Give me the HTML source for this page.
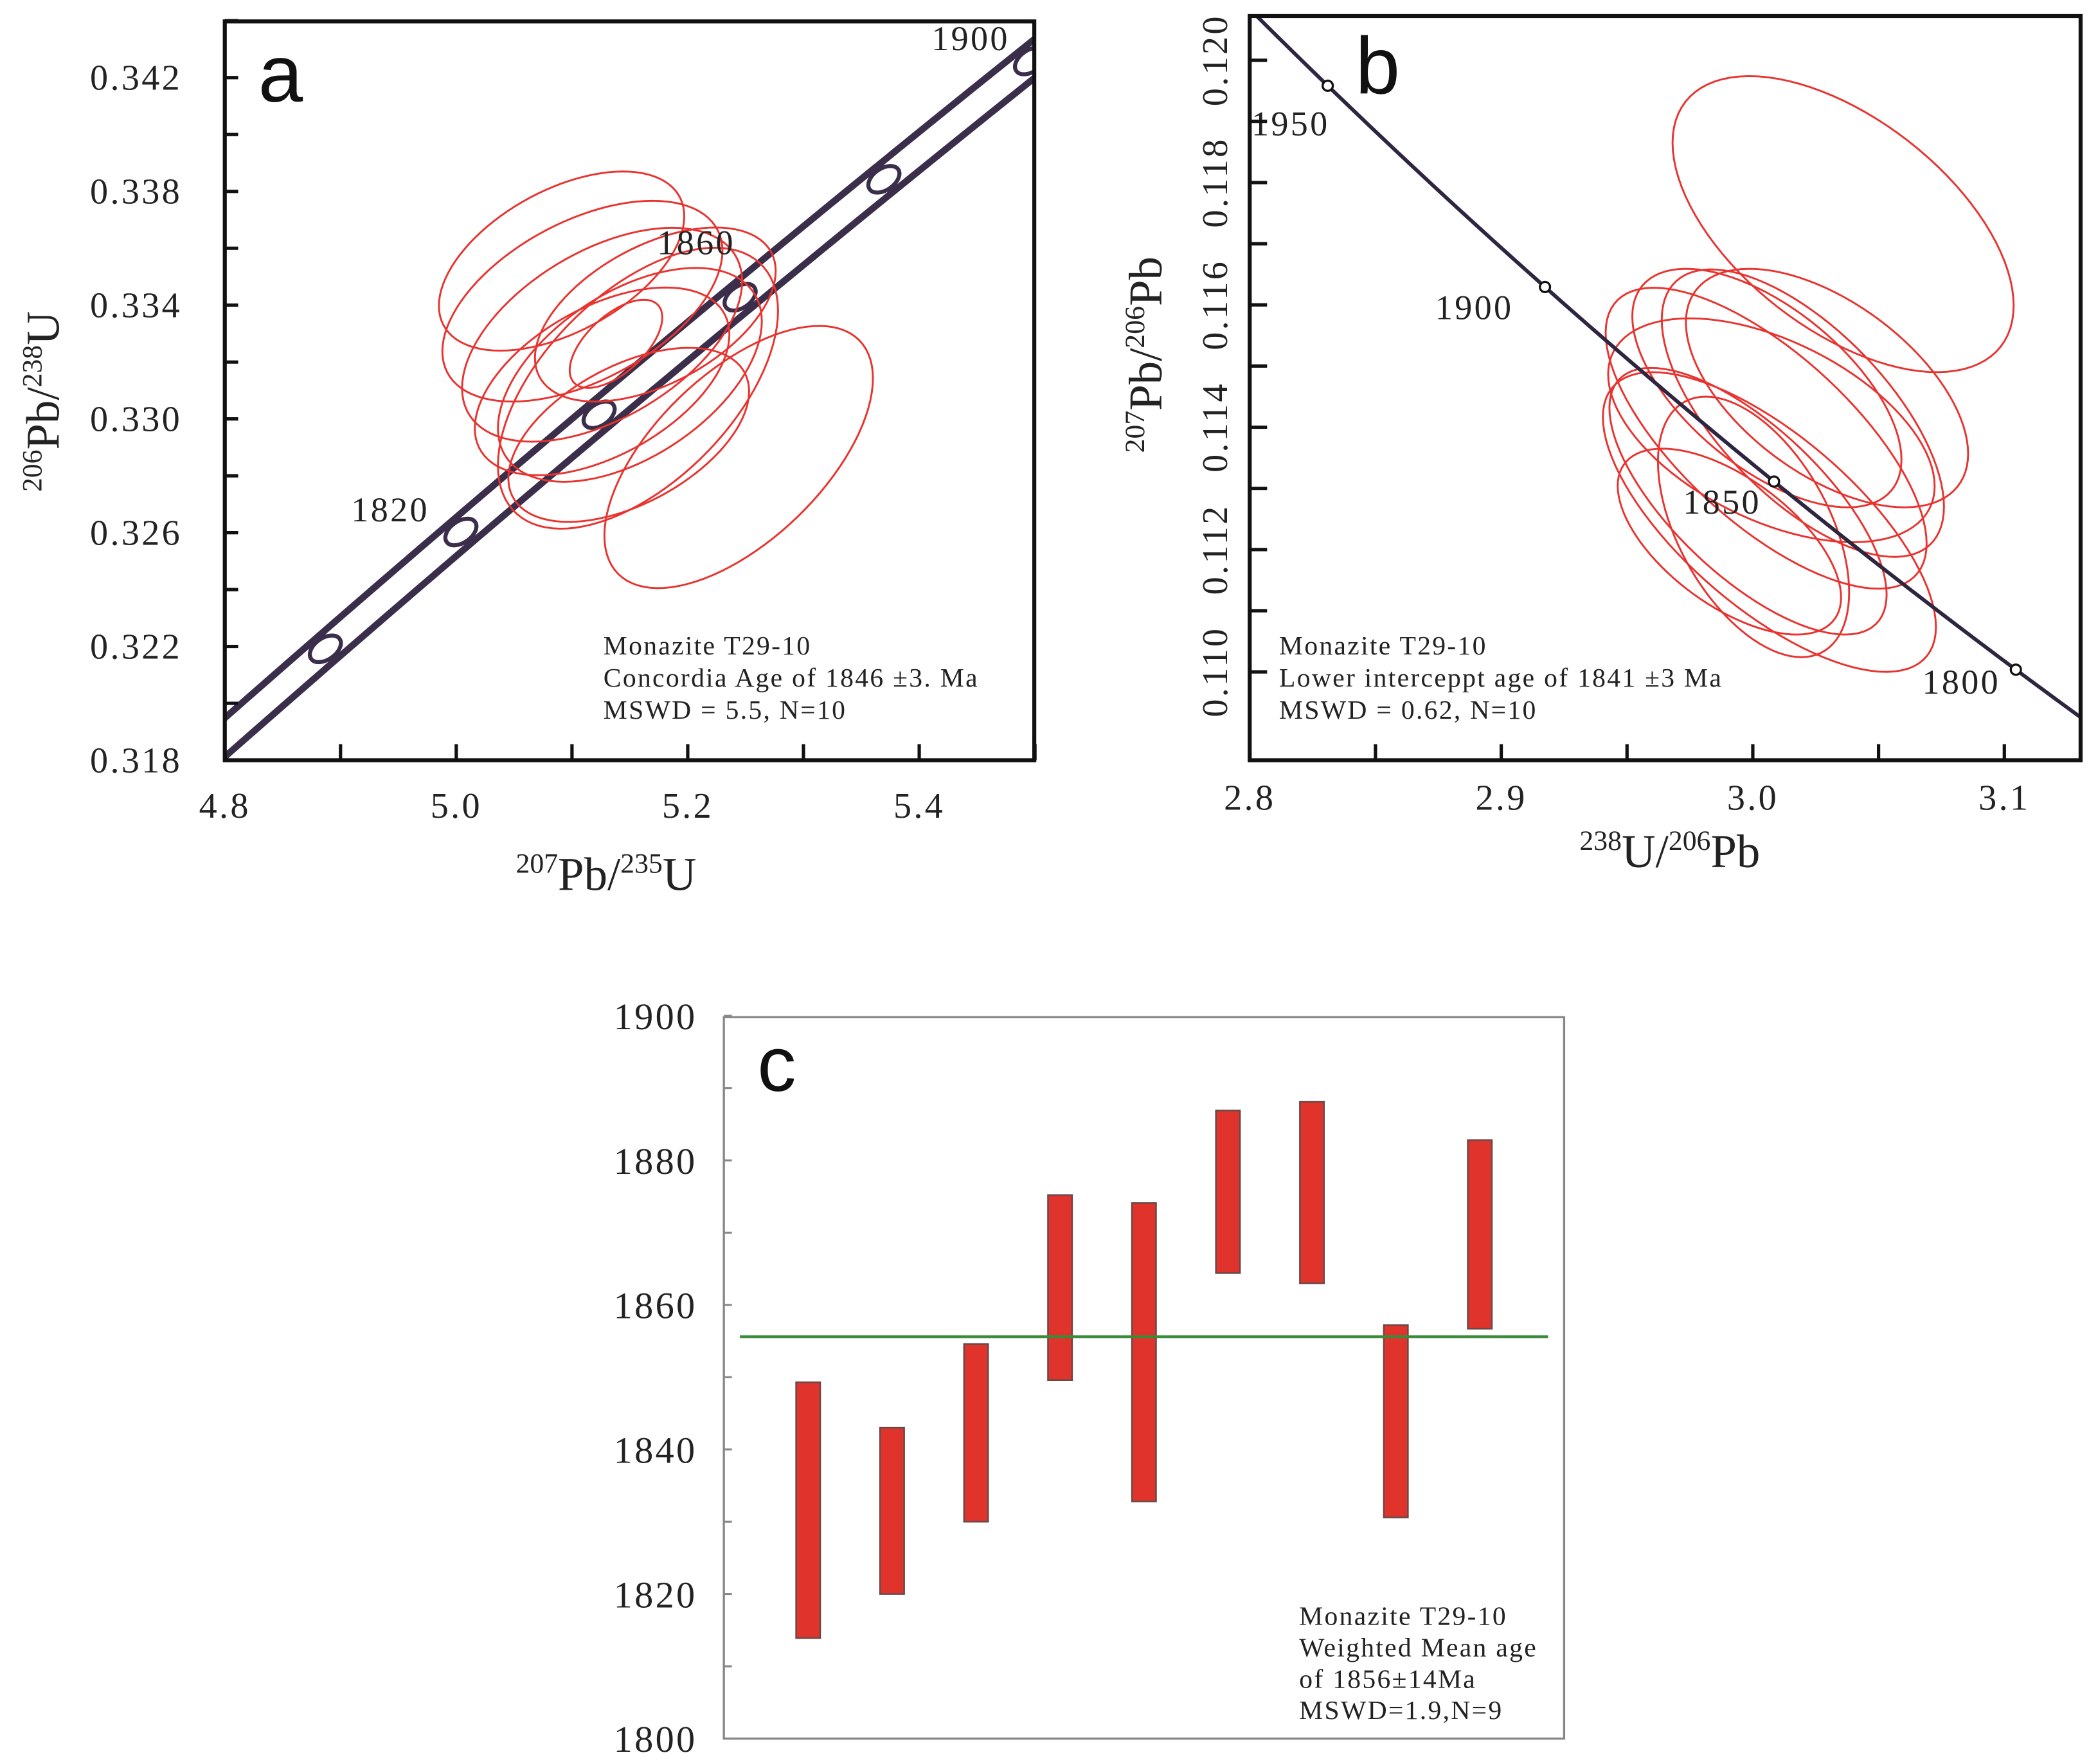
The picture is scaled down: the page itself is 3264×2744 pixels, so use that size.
<!DOCTYPE html>
<html><head><meta charset="utf-8"><style>
html,body{margin:0;padding:0;background:#fff}
svg{display:block}
text{font-family:"Liberation Serif",serif;fill:#222}
.sans{font-family:"Liberation Sans",sans-serif;fill:#111;letter-spacing:0}
.tk{letter-spacing:1.6px}
.ann{letter-spacing:1.1px}
</style></head><body>
<svg id="fig" xmlns="http://www.w3.org/2000/svg" width="3264" height="2744" viewBox="0 0 1568 1318" preserveAspectRatio="none">
<g id="pa"></g>
<g id="pb"></g>
<g id="pc"></g>
</svg>
<script>
// ---------- Panel a data ----------
const aEllCx = [5.091, 5.109, 5.126, 5.150, 5.157, 5.244, 5.138, 5.149, 5.126, 5.172];
const aEllCy = [0.33555, 0.33414, 0.33296, 0.33155, 0.33108, 0.32866, 0.33264, 0.32944, 0.33132, 0.33367];
const aEllSx = [0.106, 0.121, 0.121, 0.114, 0.121, 0.116, 0.040, 0.104, 0.110, 0.104];
const aEllSy = [0.00315, 0.00353, 0.00376, 0.00376, 0.00494, 0.00461, 0.00155, 0.00306, 0.0033, 0.00306];
const aEllRho = [0.5, 0.5, 0.5, 0.5, 0.55, 0.6, 0.6, 0.5, 0.5, 0.5];
const aXTicks = [4.8, 5.0, 5.2, 5.4];
const aYTicks = [0.318, 0.322, 0.326, 0.330, 0.334, 0.338, 0.342];
const aAgeMarks = [1800, 1820, 1840, 1860, 1880, 1900];
const aAgeLabels = [1820, 1860, 1900];
// ---------- Panel b data ----------
const bEllCx = [3.0359, 3.0056, 3.0199, 3.0295, 3.0074, 3.0066, 2.9981, 3.0003, 2.9907, 3.0053];
const bEllCy = [0.11732, 0.11464, 0.11423, 0.11464, 0.11395, 0.11245, 0.11279, 0.11237, 0.11213, 0.11382];
const bEllSx = [0.0678, 0.0535, 0.0561, 0.0561, 0.0649, 0.0662, 0.0551, 0.0380, 0.0444, 0.0638];
const bEllSy = [0.00242, 0.00195, 0.00235, 0.00195, 0.00183, 0.00245, 0.00218, 0.00213, 0.00152, 0.00246];
const bEllRho = [-0.55, -0.6, -0.65, -0.55, -0.5, -0.7, -0.7, -0.5, -0.6, -0.7];
const bXTicks = [2.8, 2.9, 3.0, 3.1];
const bYTicks = [0.110, 0.112, 0.114, 0.116, 0.118, 0.120];
const bAgeMarks = [1800, 1850, 1900, 1950];
// ---------- Panel c data ----------
const cHigh = [1849.3, 1843.0, 1854.6, 1875.2, 1874.1, 1886.9, 1888.1, 1857.2, 1882.8];
const cLow  = [1813.9, 1820.0, 1830.0, 1849.6, 1832.8, 1864.4, 1863.0, 1830.6, 1856.7];
const cMean = 1855.6;
const cYTicks = [1800, 1820, 1840, 1860, 1880, 1900];

const NS = "http://www.w3.org/2000/svg";
function mk(parent, tag, attrs, txt){
  const e = document.createElementNS(NS, tag);
  for (const k in attrs) e.setAttribute(k, attrs[k]);
  if (txt !== undefined) e.textContent = txt;
  parent.appendChild(e); return e;
}
const L238 = 1.55125e-10, L235 = 9.8485e-10;
function conc(t){ return [Math.exp(L235*t*1e6)-1, Math.exp(L238*t*1e6)-1]; }
function tw(t){ const a=Math.exp(L238*t*1e6)-1, b=Math.exp(L235*t*1e6)-1; return [1/a, b/a/137.88]; }
function ellPath(cx, cy, sx, sy, rho, X, Y){
  let d = ""; const r2 = Math.sqrt(1-rho*rho);
  for (let i=0;i<=96;i++){ const th=i/96*2*Math.PI;
    const x = cx + sx*Math.cos(th), y = cy + sy*(rho*Math.cos(th)+r2*Math.sin(th));
    d += (i?"L":"M")+X(x).toFixed(2)+","+Y(y).toFixed(2); }
  return d+"Z";
}

// ================= Panel a =================
(function(){
  const g = document.getElementById('pa');
  const x0=168,x1=773,y0=16,y1=568;
  const X = v => 168 + (v-4.8)*865;
  const Y = v => 568 - (v-0.318)*21250;
  const cp = mk(g,'clipPath',{id:'clipA'}); mk(cp,'rect',{x:x0,y:y0,width:x1-x0,height:y1-y0});
  const inner = mk(g,'g',{'clip-path':'url(#clipA)'});
  let up="", lo="";
  for (let t=1740;t<=1930;t+=2){ const c=conc(t);
    up += (up?"L":"M")+X(c[0]).toFixed(2)+","+(Y(c[1])-10).toFixed(2);
    lo += (lo?"L":"M")+X(c[0]).toFixed(2)+","+(Y(c[1])+19).toFixed(2); }
  const bu = mk(inner,'path',{d:up,fill:'none',stroke:'#3a2e4a','stroke-width':5});
   
  const bl = mk(inner,'path',{d:lo,fill:'none',stroke:'#3a2e4a','stroke-width':5});
   
  aAgeMarks.forEach(t=>{ const c=conc(t);
    const m = mk(inner,'ellipse',{cx:X(c[0]),cy:Y(c[1])+4,rx:13,ry:8,transform:`rotate(-35 ${X(c[0])} ${Y(c[1])+4})`,fill:'#fff',stroke:'#3a2e4a','stroke-width':3});
     
  });
  aEllCx.forEach((cx,i)=>{
    const p = mk(inner,'path',{d:ellPath(cx,aEllCy[i],aEllSx[i],aEllSy[i],aEllRho[i],X,Y),fill:'none',stroke:'#e8332f','stroke-width':1.4});
     
  });
  const labOff = {1820:[-82,-4],1860:[-62,-28],1900:[-74,-4]};
  aAgeLabels.forEach(t=>{ const c=conc(t);
    const tx = mk(g,'text',{x:X(c[0])+labOff[t][0],y:Y(c[1])+labOff[t][1],'font-size':26,class:'tk'},String(t));
     
  });
  const fr = mk(g,'rect',{x:x0,y:y0,width:x1-x0,height:y1-y0,fill:'none',stroke:'#111','stroke-width':3});
   
  for (let v=4.8; v<=5.501; v+=0.1){ mk(g,'line',{x1:X(v),x2:X(v),y1:y1,y2:y1-12,stroke:'#111','stroke-width':2.5}); }
  for (let v=0.318; v<=0.3441; v+=0.002){ mk(g,'line',{x1:x0,x2:x0+10,y1:Y(v),y2:Y(v),stroke:'#111','stroke-width':2.5}); }
  aXTicks.forEach(v=>{ const t=mk(g,'text',{x:X(v),y:611,'text-anchor':'middle','font-size':27,class:'tk'},v.toFixed(1));
      });
  aYTicks.forEach(v=>{ const t=mk(g,'text',{x:136,y:Y(v)+9,'text-anchor':'end','font-size':27,class:'tk'},v.toFixed(3));
      });
  const pl = mk(g,'text',{x:193,y:76,'font-size':60,class:'sans'},'a');
   
  const xt = mk(g,'text',{x:453,y:665,'text-anchor':'middle','font-size':35});
  xt.innerHTML='<tspan font-size="21" dy="-13">207</tspan><tspan dy="13">Pb/</tspan><tspan font-size="21" dy="-13">235</tspan><tspan dy="13">U</tspan>';
   
  const yt = mk(g,'text',{x:0,y:0,'text-anchor':'middle','font-size':35,transform:'translate(44,300) rotate(-90)'});
  yt.innerHTML='<tspan font-size="21" dy="-13">206</tspan><tspan dy="13">Pb/</tspan><tspan font-size="21" dy="-13">238</tspan><tspan dy="13">U</tspan>';
   
  ['Monazite T29-10','Concordia Age of 1846 \u00b13. Ma','MSWD = 5.5, N=10'].forEach((s,i)=>{
    const t=mk(g,'text',{x:451,y:489+i*24,'font-size':20,fill:'#333',class:'ann'},s);
      });
})();

// ================= Panel b =================
(function(){
  const g = document.getElementById('pb');
  const x0=934,x1=1555,y0=12,y1=568;
  const X = v => 934 + (v-2.8)*1880;
  const Y = v => 502 - (v-0.110)*45700;
  const cp = mk(g,'clipPath',{id:'clipB'}); mk(cp,'rect',{x:x0,y:y0,width:x1-x0,height:y1-y0});
  const inner = mk(g,'g',{'clip-path':'url(#clipB)'});
  bEllCx.forEach((cx,i)=>{
    const p = mk(inner,'path',{d:ellPath(cx,bEllCy[i],bEllSx[i],bEllSy[i],bEllRho[i],X,Y),fill:'none',stroke:'#e8332f','stroke-width':1.4});
     
  });
  let d="";
  for (let t=1760;t<=2000;t+=2){ const c=tw(t); d += (d?"L":"M")+X(c[0]).toFixed(2)+","+Y(c[1]).toFixed(2); }
  const cl = mk(inner,'path',{d:d,fill:'none',stroke:'#2e2540','stroke-width':2.8});
   
  bAgeMarks.forEach(t=>{ const c=tw(t);
    const m = mk(inner,'circle',{cx:X(c[0]),cy:Y(c[1]),r:3.8,fill:'#fff',stroke:'#111','stroke-width':1.6});
     
  });
  const lo = {1800:[-70,18],1850:[-68,24],1900:[-82,24],1950:[-57,37]};
  bAgeMarks.forEach(t=>{ const c=tw(t);
    const tx = mk(g,'text',{x:X(c[0])+lo[t][0],y:Y(c[1])+lo[t][1],'font-size':26,class:'tk'},String(t));
     
  });
  const fr = mk(g,'rect',{x:x0,y:y0,width:x1-x0,height:y1-y0,fill:'none',stroke:'#111','stroke-width':3});
   
  for (let v=2.85; v<=3.151; v+=0.05){ mk(g,'line',{x1:X(v),x2:X(v),y1:y1,y2:y1-12,stroke:'#111','stroke-width':2.5}); }
  for (let v=0.110; v<=0.1205; v+=0.001){ mk(g,'line',{x1:x0,x2:x0+13,y1:Y(v),y2:Y(v),stroke:'#111','stroke-width':2.5}); }
  bXTicks.forEach(v=>{ const t=mk(g,'text',{x:X(v),y:605,'text-anchor':'middle','font-size':27,class:'tk'},v.toFixed(1));
      });
  bYTicks.forEach(v=>{ const t=mk(g,'text',{x:0,y:0,'text-anchor':'middle','font-size':27,class:'tk',transform:`translate(917,${Y(v)}) rotate(-90)`},v.toFixed(3));
      });
  const pl = mk(g,'text',{x:1013,y:70,'font-size':60,class:'sans'},'b');
   
  const xt = mk(g,'text',{x:1248,y:648,'text-anchor':'middle','font-size':35});
  xt.innerHTML='<tspan font-size="21" dy="-13">238</tspan><tspan dy="13">U/</tspan><tspan font-size="21" dy="-13">206</tspan><tspan dy="13">Pb</tspan>';
   
  const yt = mk(g,'text',{x:0,y:0,'text-anchor':'middle','font-size':35,transform:'translate(868,265) rotate(-90)'});
  yt.innerHTML='<tspan font-size="21" dy="-13">207</tspan><tspan dy="13">Pb/</tspan><tspan font-size="21" dy="-13">206</tspan><tspan dy="13">Pb</tspan>';
   
  ['Monazite T29-10','Lower interceppt age of 1841 \u00b13 Ma','MSWD = 0.62, N=10'].forEach((s,i)=>{
    const t=mk(g,'text',{x:956,y:489+i*24,'font-size':20,fill:'#333',class:'ann'},s);
      });
})();

// ================= Panel c =================
(function(){
  const g = document.getElementById('pc');
  const x0=541,x1=1169,y0=760,y1=1299;
  const Y = v => 1299 - (v-1800)*5.4;
  const X = i => 604 + i*62.75;
  const fr = mk(g,'rect',{x:x0,y:y0,width:x1-x0,height:y1-y0,fill:'none',stroke:'#888','stroke-width':1.6});
   
  for (let v=1800; v<=1900; v+=10){ mk(g,'line',{x1:x0,x2:x0+6,y1:Y(v),y2:Y(v),stroke:'#888','stroke-width':1.5}); }
  cYTicks.forEach(v=>{ const t=mk(g,'text',{x:521,y:Y(v)+10,'text-anchor':'end','font-size':28,class:'tk'},String(v));
      });
  cHigh.forEach((h,i)=>{
    const r = mk(g,'rect',{x:X(i)-9,y:Y(h),width:18,height:Y(cLow[i])-Y(h),fill:'#e0332b',stroke:'#6a4a48','stroke-width':1.2});
     
  });
  const ml = mk(g,'line',{x1:553,x2:1157,y1:Y(cMean),y2:Y(cMean),stroke:'#3a8a3a','stroke-width':2});
   
  const pl = mk(g,'text',{x:566,y:815,'font-size':58,class:'sans'},'c');
   
  ['Monazite T29-10','Weighted Mean age','of 1856\u00b114Ma','MSWD=1.9,N=9'].forEach((s,i)=>{
    const t=mk(g,'text',{x:971,y:1214+i*23.5,'font-size':20,fill:'#333',class:'ann'},s);
      });
})();
</script>
</body></html>
